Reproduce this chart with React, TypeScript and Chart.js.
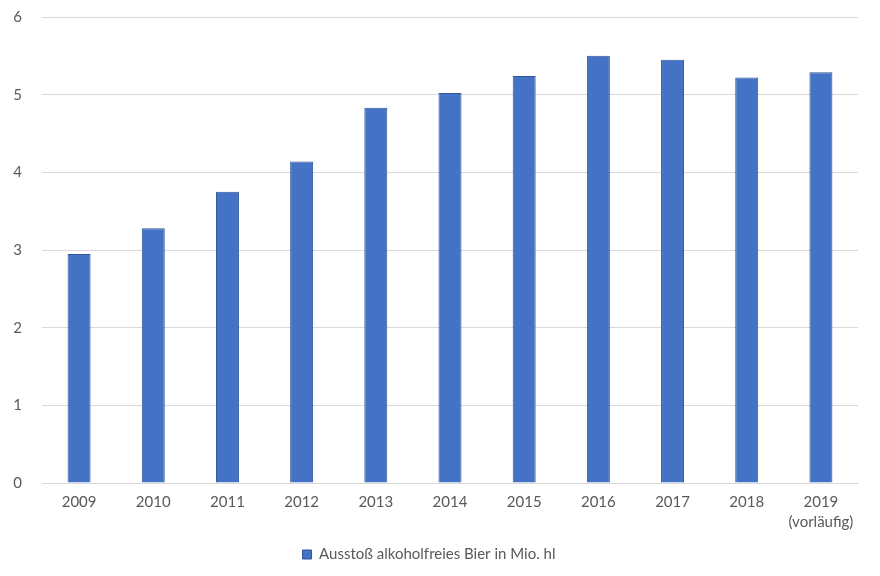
import React, { useEffect, useRef } from "react";
import { Chart, registerables } from "chart.js";

Chart.register(...registerables);

const categories: (string | string[])[] = ["2009", "2010", "2011", "2012", "2013", "2014", "2015", "2016", "2017", "2018", ["2019", "(vorläufig)"]];
const values: number[] = [2.95, 3.28, 3.75, 4.14, 4.83, 5.02, 5.24, 5.5, 5.45, 5.22, 5.29];
const seriesName = "Ausstoß alkoholfreies Bier in Mio. hl";
const yTicks = { min: 0, max: 6, step: 1 };

export default function App() {
  const ref = useRef<HTMLCanvasElement | null>(null);
  useEffect(() => {
    if (!ref.current) return;
    const font = { family: "Lato, 'Open Sans', sans-serif", size: 15, lineHeight: 1.35 };
    const chart = new Chart(ref.current, {
      type: "bar",
      data: {
        labels: categories,
        datasets: [
          {
            label: seriesName,
            data: values,
            backgroundColor: "#4472C4",
            borderColor: "#2F5597",
            borderWidth: 1,
            categoryPercentage: 1,
            barPercentage: 0.31,
          },
        ],
      },
      options: {
        animation: false,
        responsive: false,
        maintainAspectRatio: false,
        layout: { padding: { top: 17, left: 0, right: 22, bottom: 4 } },
        plugins: {
          legend: {
            position: "bottom",
            labels: { boxWidth: 9, boxHeight: 9, color: "#595959", font: { ...font, lineHeight: 1.2 }, padding: 8 },
          },
          tooltip: { enabled: false },
        },
        scales: {
          x: {
            grid: { display: false, drawTicks: false },
            border: { color: "#d9d9d9", width: 1 },
            ticks: { color: "#595959", font, padding: 9, maxRotation: 0, autoSkip: false },
            afterFit: (s: any) => {
              s.height = 56;
              s.paddingTop = 0;
              s.paddingBottom = 0;
            },
          },
          y: {
            min: yTicks.min,
            max: yTicks.max,
            ticks: { stepSize: yTicks.step, color: "#595959", font: { ...font, lineHeight: 1.2 }, padding: 20 },
            grid: { color: "#d9d9d9", drawTicks: false },
            border: { display: false },
            afterFit: (s: any) => {
              s.width = 42;
              s.paddingTop = 0;
              s.paddingBottom = 0;
            },
          },
        },
      },
    });
    return () => chart.destroy();
  }, []);
  return (
    <div style={{ position: "fixed", left: 0, top: 0, width: 880, height: 576, background: "#fff" }}>
      <canvas ref={ref} width={880} height={576} style={{ width: 880, height: 576 }} />
    </div>
  );
}
